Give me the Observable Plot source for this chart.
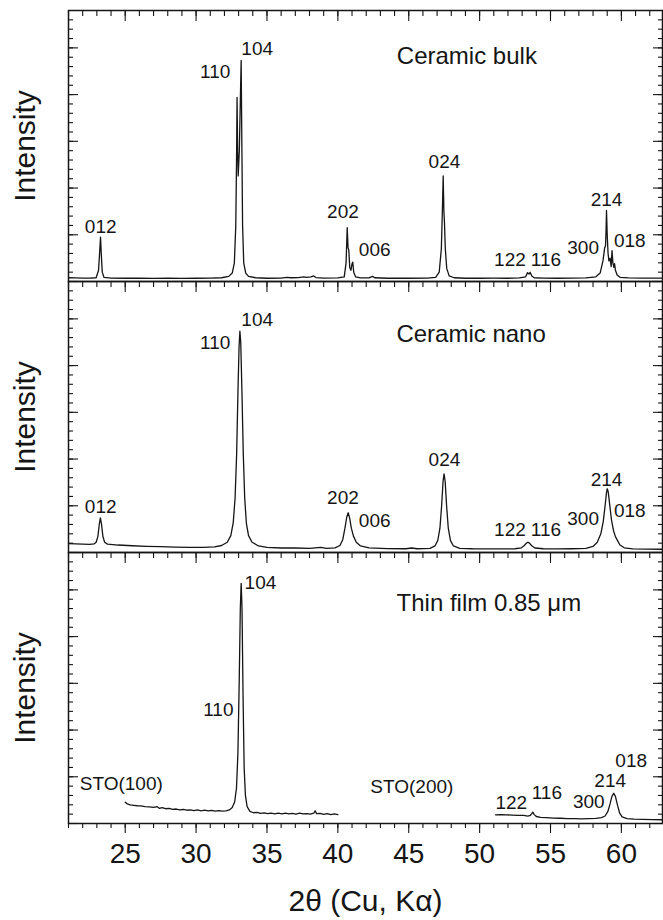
<!DOCTYPE html>
<html><head><meta charset="utf-8">
<script src="https://cdn.jsdelivr.net/npm/d3@7"></script>
<script src="https://cdn.jsdelivr.net/npm/@observablehq/plot@0.6"></script>
<style>
html,body{margin:0;padding:0;background:#fff;}
#wrap{position:relative;width:663px;height:920px;overflow:hidden;}
#wrap svg{position:absolute;left:0;}
</style></head><body><div id="wrap"></div>
<script>
// ---- axis values ----
const xDomain = [21, 62.9];
const yDomain = [0, 29];
const xMajor = [25, 30, 35, 40, 45, 50, 55, 60];
const xMinor = [21,22,23,24,25,26,27,28,29,30,31,32,33,34,35,36,37,38,39,40,41,42,43,44,45,46,47,48,49,50,51,52,53,54,55,56,57,58,59,60,61,62];
const yMajor = [0, 5, 10, 15, 20, 25];
const yMinor = [1,2,3,4,5,6,7,8,9,10,11,12,13,14,15,16,17,18,19,20,21,22,23,24,25,26,27,28];
const xTitle = "2θ (Cu, Kα)";
const yTitle = "Intensity";

// ---- spectra: [2θ, intensity] ----
const bulk = [[21.0,0.4],[21.5,0.38],[22.0,0.36],[22.5,0.36],[22.95,0.4],[23.12,1.2],[23.2,3.2],[23.26,4.75],[23.31,3.0],[23.38,1.0],[23.5,0.45],[24,0.36],[25,0.35],[26,0.37],[27,0.34],[28,0.36],[29,0.34],[30,0.35],[31,0.36],[31.8,0.4],[32.3,0.55],[32.55,0.9],[32.7,2.0],[32.8,6],[32.86,14],[32.89,19.7],[32.93,14],[32.97,11.3],[33.05,14],[33.13,20],[33.18,23.65],[33.22,16],[33.28,6],[33.36,2.0],[33.5,0.9],[33.7,0.55],[34.2,0.4],[35,0.35],[36,0.36],[36.4,0.45],[36.7,0.4],[37.2,0.42],[37.6,0.5],[37.8,0.45],[38.1,0.5],[38.3,0.6],[38.45,0.42],[39,0.36],[40,0.38],[40.45,0.5],[40.58,2.0],[40.66,5.75],[40.72,3.6],[40.77,3.4],[40.84,1.5],[40.92,1.2],[41.0,1.9],[41.05,2.07],[41.12,1.0],[41.25,0.5],[41.6,0.38],[42.2,0.38],[42.45,0.55],[42.6,0.4],[43.5,0.35],[45,0.35],[46.3,0.36],[46.9,0.45],[47.15,1.0],[47.3,3.5],[47.38,8],[47.43,11.3],[47.48,7.5],[47.52,6.35],[47.58,3.5],[47.68,1.4],[47.85,0.6],[48.2,0.4],[49,0.35],[50,0.35],[51,0.36],[52,0.35],[52.8,0.38],[53.25,0.5],[53.38,0.95],[53.48,0.8],[53.56,0.98],[53.68,0.6],[53.85,0.4],[54.5,0.36],[55.5,0.35],[56.5,0.36],[57.5,0.38],[58.2,0.5],[58.5,0.9],[58.7,2.2],[58.82,3.6],[58.88,3.8],[58.92,5.5],[58.95,7.6],[59.0,5],[59.06,3.0],[59.12,2.2],[59.2,2.5],[59.28,1.6],[59.34,3.3],[59.4,2.0],[59.47,1.5],[59.52,1.9],[59.58,1.2],[59.7,0.7],[59.9,0.45],[60.5,0.38],[61.5,0.36],[62.9,0.36]];

const nano = [[21.0,0.95],[21.5,0.92],[22.0,0.9],[22.5,0.88],[22.8,0.92],[22.95,1.1],[23.07,1.7],[23.17,3.0],[23.25,3.71],[23.33,3.0],[23.43,1.7],[23.55,1.1],[23.75,0.9],[24.5,0.8],[25.5,0.72],[26.5,0.66],[27.5,0.62],[28.5,0.58],[29.5,0.55],[30.5,0.55],[31.3,0.6],[31.8,0.75],[32.2,1.1],[32.45,1.8],[32.62,3.2],[32.75,5.8],[32.86,10.5],[32.95,17],[33.03,22],[33.09,23.68],[33.15,22.5],[33.23,17.5],[33.33,10.5],[33.43,5.8],[33.55,3.1],[33.7,1.8],[33.95,1.1],[34.4,0.7],[35,0.55],[36,0.48],[37,0.48],[38,0.45],[38.8,0.55],[39.2,0.45],[39.8,0.5],[40.15,0.75],[40.35,1.4],[40.5,2.6],[40.63,3.8],[40.73,4.25],[40.83,3.7],[40.95,2.6],[41.1,1.75],[41.3,1.1],[41.6,0.7],[42.2,0.5],[43.5,0.42],[44.8,0.4],[45.2,0.48],[45.6,0.4],[46.5,0.45],[46.85,0.7],[47.05,1.3],[47.2,2.6],[47.32,5.0],[47.42,7.6],[47.49,8.42],[47.57,7.6],[47.67,5.0],[47.79,2.6],[47.94,1.3],[48.15,0.7],[48.6,0.45],[49.5,0.4],[51,0.38],[52.5,0.4],[52.95,0.5],[53.15,0.75],[53.3,1.0],[53.41,1.1],[53.52,1.0],[53.67,0.72],[53.9,0.48],[54.5,0.4],[55.5,0.38],[56.5,0.4],[57.5,0.45],[58.0,0.65],[58.3,1.1],[58.55,2.0],[58.72,3.3],[58.85,5.0],[58.95,6.4],[59.0,6.82],[59.07,6.5],[59.17,5.2],[59.3,3.5],[59.45,2.3],[59.58,1.7],[59.72,1.3],[59.9,0.8],[60.2,0.5],[60.8,0.38],[61.8,0.36],[62.9,0.35]];

const film1 = [[25.0,2.28],[25.15,2.1],[25.35,2.0],[25.6,1.95],[25.85,1.9],[26.1,1.88],[26.4,1.8],[26.7,1.78],[27.0,1.72],[27.25,1.8],[27.4,1.62],[27.6,1.7],[27.85,1.58],[28.1,1.62],[28.35,1.52],[28.6,1.55],[28.85,1.45],[29.1,1.5],[29.35,1.42],[29.6,1.46],[29.85,1.38],[30.1,1.45],[30.35,1.36],[30.6,1.42],[30.85,1.34],[31.1,1.4],[31.35,1.32],[31.6,1.38],[31.85,1.33],[32.1,1.36],[32.35,1.45],[32.55,1.7],[32.72,2.3],[32.85,3.8],[32.95,7.5],[33.04,15],[33.12,23],[33.18,25.7],[33.24,23],[33.31,14],[33.39,6],[33.48,3.0],[33.6,1.8],[33.8,1.3],[34.05,1.15],[34.3,1.2],[34.55,1.08],[34.8,1.14],[35.05,1.05],[35.3,1.12],[35.55,1.02],[35.8,1.1],[36.05,1.04],[36.3,1.12],[36.55,1.02],[36.8,1.08],[37.05,1.0],[37.3,1.1],[37.55,1.02],[37.8,1.06],[38.05,1.0],[38.3,1.1],[38.4,1.35],[38.5,1.05],[38.75,1.08],[39.0,0.98],[39.25,1.05],[39.5,0.96],[39.75,1.02],[40.0,0.96]];

const film2 = [[51.12,0.93],[51.5,0.95],[51.9,0.92],[52.3,0.9],[52.7,0.88],[53.1,0.86],[53.4,0.8],[53.58,0.88],[53.68,1.05],[53.75,1.21],[53.85,0.95],[54.0,0.75],[54.3,0.66],[54.7,0.62],[55.2,0.58],[55.7,0.56],[56.2,0.52],[56.7,0.52],[57.2,0.5],[57.7,0.52],[58.2,0.55],[58.6,0.62],[58.85,0.8],[59.05,1.3],[59.2,2.1],[59.33,2.9],[59.46,3.24],[59.58,2.9],[59.72,2.0],[59.88,1.1],[60.05,0.7],[60.4,0.52],[60.9,0.46],[61.5,0.44],[62.2,0.42],[62.9,0.4]];

// ---- annotations: text anchored at (2θ, intensity) ----
const bulkLabels = [
  {text:"012", x:23.27, y:5.81}, {text:"110", x:31.35, y:22.4}, {text:"104", x:34.31, y:24.9},
  {text:"202", x:40.36, y:7.42}, {text:"006", x:42.6, y:3.39}, {text:"024", x:47.52, y:12.77},
  {text:"122", x:52.14, y:2.32}, {text:"116", x:54.68, y:2.32}, {text:"300", x:57.3, y:3.61},
  {text:"214", x:58.95, y:8.77}, {text:"018", x:60.59, y:4.31}
];
const nanoLabels = [
  {text:"012", x:23.27, y:4.85}, {text:"110", x:31.35, y:22.4}, {text:"104", x:34.31, y:24.93},
  {text:"202", x:40.36, y:5.85}, {text:"006", x:42.6, y:3.42}, {text:"024", x:47.52, y:9.92},
  {text:"122", x:52.14, y:2.43}, {text:"116", x:54.68, y:2.43}, {text:"300", x:57.3, y:3.61},
  {text:"214", x:58.95, y:7.81}, {text:"018", x:60.59, y:4.42}
];
const filmLabels = [
  {text:"104", x:34.54, y:25.71}, {text:"110", x:31.57, y:12.17},
  {text:"STO(100)", x:24.72, y:4.25}, {text:"STO(200)", x:45.22, y:3.88},
  {text:"122", x:52.23, y:2.19}, {text:"116", x:54.74, y:3.24}, {text:"300", x:57.7, y:2.28},
  {text:"214", x:59.21, y:4.53}, {text:"018", x:60.69, y:6.74}
];
const titles = [
  {text:"Ceramic bulk", x:49.1, y:24.08},
  {text:"Ceramic nano", x:49.4, y:23.4},
  {text:"Thin film 0.85 μm", x:50.65, y:23.51}
];

const INK = "#151515";
const FONT = "'Liberation Sans', Arial, Helvetica, sans-serif";
const noText = () => "";
const MAJ = 10, MIN = 5;

function innerTicks() {
  // ticks drawn on the frame, pointing into the plot area
  return [
    Plot.axisX({anchor: "top", ticks: xMinor, tickSize: MIN, dy: MIN, tickFormat: noText, label: null, stroke: INK, strokeWidth: 1.1}),
    Plot.axisX({anchor: "top", ticks: xMajor, tickSize: MAJ, dy: MAJ, tickFormat: noText, label: null, stroke: INK, strokeWidth: 1.1}),
    Plot.axisY({anchor: "left", ticks: yMinor, tickSize: MIN, dx: MIN, tickFormat: noText, label: null, stroke: INK, strokeWidth: 1.1}),
    Plot.axisY({anchor: "left", ticks: yMajor, tickSize: MAJ, dx: MAJ, tickFormat: noText, label: null, stroke: INK, strokeWidth: 1.1}),
    Plot.axisY({anchor: "right", ticks: yMinor, tickSize: MIN, dx: -MIN, tickFormat: noText, label: null, stroke: INK, strokeWidth: 1.1}),
    Plot.axisY({anchor: "right", ticks: yMajor, tickSize: MAJ, dx: -MAJ, tickFormat: noText, label: null, stroke: INK, strokeWidth: 1.1})
  ];
}

function panel({segments, labels, title, top, height, marginTop, marginBottom, bottomAxis}) {
  const marks = [
    ...innerTicks(),
    ...segments.map(seg => Plot.line(seg, {x: d => d[0], y: d => d[1], stroke: INK, strokeWidth: 1.3})),
    Plot.text(labels, {x: "x", y: "y", text: "text", fontSize: 19, fill: INK, textAnchor: "middle", lineAnchor: "middle"}),
    Plot.text([title], {x: "x", y: "y", text: "text", fontSize: 24, fill: INK, textAnchor: "middle", lineAnchor: "middle"}),
    Plot.text([yTitle], {frameAnchor: "left", dx: -43, rotate: -90, fontSize: 30, fill: INK, textAnchor: "middle", lineAnchor: "middle"}),
    Plot.frame({stroke: INK, strokeWidth: 1.5})
  ];
  if (bottomAxis) {
    marks.push(
      Plot.axisX({anchor: "bottom", ticks: xMinor, tickSize: MIN, tickFormat: noText, label: null, stroke: INK, strokeWidth: 1.1}),
      Plot.axisX({anchor: "bottom", ticks: xMajor, tickSize: MAJ, tickFormat: noText, label: null, stroke: INK, strokeWidth: 1.1}),
      Plot.text(xMajor, {x: d => d, text: d => String(d), frameAnchor: "bottom", dy: 31, fontSize: 28, fill: INK, textAnchor: "middle", lineAnchor: "middle"}),
      Plot.text([xTitle], {frameAnchor: "bottom", dy: 78, fontSize: 30, fill: INK, textAnchor: "middle", lineAnchor: "middle"})
    );
  }
  const svg = Plot.plot({
    width: 663, height, marginTop, marginBottom, marginLeft: 68, marginRight: 1,
    x: {domain: xDomain, axis: null},
    y: {domain: yDomain, axis: null},
    style: {overflow: "visible", background: "transparent", fontFamily: FONT, color: INK},
    marks
  });
  svg.style.top = top + "px";
  return svg;
}

const wrap = document.getElementById("wrap");
wrap.appendChild(panel({segments: [bulk], labels: bulkLabels, title: titles[0], top: 0, height: 281, marginTop: 10, marginBottom: 0}));
wrap.appendChild(panel({segments: [nano], labels: nanoLabels, title: titles[1], top: 281, height: 271, marginTop: 0, marginBottom: 0}));
wrap.appendChild(panel({segments: [film1, film2], labels: filmLabels, title: titles[2], top: 552, height: 368, marginTop: 0, marginBottom: 97, bottomAxis: true}));
</script></body></html>
